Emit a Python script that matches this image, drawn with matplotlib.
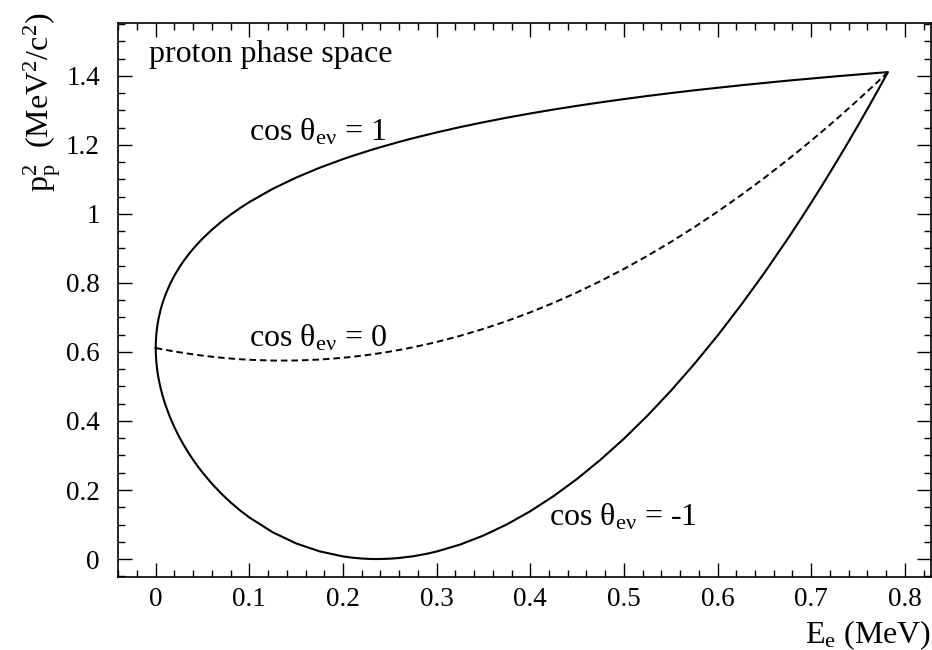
import matplotlib
matplotlib.use("Agg")
import matplotlib.pyplot as plt
from matplotlib.ticker import MultipleLocator, FixedLocator

plt.rcParams['font.family'] = ['Liberation Serif', 'DejaVu Serif']
plt.rcParams['mathtext.fontset'] = 'custom'
plt.rcParams['mathtext.rm'] = 'Liberation Serif'
plt.rcParams['mathtext.it'] = 'Liberation Serif:italic'


##########################  DATA   ##########################

# electron kinetic energy (MeV)
e_kin = [0.0, 0.0001, 0.0005, 0.001, 0.002, 0.003, 0.005, 0.007,
         0.01, 0.015, 0.02, 0.025, 0.03, 0.035, 0.04, 0.045,
         0.05, 0.06, 0.07, 0.08, 0.09, 0.1, 0.125, 0.15,
         0.175, 0.2, 0.21, 0.22, 0.225, 0.23, 0.236, 0.24,
         0.25, 0.26, 0.275, 0.29, 0.3, 0.325, 0.35, 0.375,
         0.4, 0.425, 0.45, 0.475, 0.5, 0.525, 0.55, 0.575,
         0.6, 0.625, 0.65, 0.675, 0.69, 0.7, 0.71, 0.72,
         0.73, 0.74, 0.75, 0.76, 0.77, 0.775, 0.779, 0.782]

# p_p^2 for cos(theta_e nu) = 1
pp2_up = [0.6115, 0.6273, 0.6466, 0.6609, 0.6810, 0.6963, 0.7202, 0.7394,
          0.7632, 0.7952, 0.8215, 0.8442, 0.8643, 0.8824, 0.8989, 0.9142,
          0.9284, 0.9541, 0.9771, 0.9978, 1.0168, 1.0342, 1.0726, 1.1052,
          1.1336, 1.1586, 1.1678, 1.1766, 1.1809, 1.1851, 1.1900, 1.1932,
          1.2010, 1.2086, 1.2193, 1.2295, 1.2360, 1.2514, 1.2655, 1.2787,
          1.2909, 1.3024, 1.3130, 1.3231, 1.3325, 1.3415, 1.3499, 1.3579,
          1.3654, 1.3726, 1.3794, 1.3860, 1.3897, 1.3922, 1.3946, 1.3970,
          1.3993, 1.4016, 1.4038, 1.4060, 1.4082, 1.4092, 1.4101, 1.4107]

# p_p^2 for cos(theta_e nu) = 0
pp2_mid = [0.6115, 0.6115, 0.6113, 0.6110, 0.6104, 0.6099, 0.6089, 0.6078,
           0.6063, 0.6038, 0.6015, 0.5992, 0.5971, 0.5950, 0.5930, 0.5912,
           0.5894, 0.5862, 0.5834, 0.5810, 0.5789, 0.5773, 0.5750, 0.5752,
           0.5779, 0.5831, 0.5859, 0.5891, 0.5908, 0.5927, 0.5950, 0.5966,
           0.6010, 0.6058, 0.6137, 0.6225, 0.6289, 0.6466, 0.6668, 0.6895,
           0.7147, 0.7424, 0.7726, 0.8053, 0.8405, 0.8782, 0.9184, 0.9611,
           1.0063, 1.0540, 1.1042, 1.1569, 1.1897, 1.2121, 1.2349, 1.2581,
           1.2817, 1.3056, 1.3300, 1.3548, 1.3800, 1.3927, 1.4030, 1.4107]

# p_p^2 for cos(theta_e nu) = -1
pp2_low = [0.6115, 0.5957, 0.5759, 0.5610, 0.5399, 0.5235, 0.4975, 0.4763,
           0.4495, 0.4125, 0.3815, 0.3543, 0.3299, 0.3077, 0.2872, 0.2682,
           0.2505, 0.2183, 0.1897, 0.1641, 0.1411, 0.1204, 0.0775, 0.0452,
           0.0223, 0.0077, 0.0040, 0.0015, 0.0007, 0.0002, 0.0000, 0.0001,
           0.0010, 0.0031, 0.0081, 0.0156, 0.0218, 0.0419, 0.0681, 0.1004,
           0.1385, 0.1825, 0.2322, 0.2876, 0.3485, 0.4150, 0.4870, 0.5644,
           0.6472, 0.7355, 0.8290, 0.9279, 0.9898, 1.0321, 1.0752, 1.1192,
           1.1641, 1.2097, 1.2562, 1.3036, 1.3518, 1.3762, 1.3959, 1.4107]

x_ticks = [0, 0.1, 0.2, 0.3, 0.4, 0.5, 0.6, 0.7, 0.8]
x_tick_labels = ['0', '0.1', '0.2', '0.3', '0.4', '0.5', '0.6', '0.7', '0.8']
y_ticks = [0, 0.2, 0.4, 0.6, 0.8, 1.0, 1.2, 1.4]
y_tick_labels = ['0', '0.2', '0.4', '0.6', '0.8', '1', '1.2', '1.4']


#################################  PLOTTING   #################################

fig = plt.figure(figsize=(9.32, 6.5), dpi=100)
ax = fig.add_axes([118/932, 1 - 577/650, 813/932, 554/650])

# closed contour: upper branch out, lower branch back
x_closed = e_kin + e_kin[::-1]
y_closed = pp2_up + pp2_low[::-1]
ax.plot(x_closed, y_closed, color='black', lw=1.5, solid_joinstyle='round')
ax.plot(e_kin, pp2_mid, color='black', lw=1.4, linestyle=(0, (3.4, 2.0)))

ax.set_xlim(-0.0403, 0.828)
ax.set_ylim(-0.052, 1.553)

ax.xaxis.set_major_locator(FixedLocator(x_ticks))
ax.set_xticklabels(x_tick_labels)
ax.yaxis.set_major_locator(FixedLocator(y_ticks))
ax.set_yticklabels(y_tick_labels)
ax.xaxis.set_minor_locator(MultipleLocator(0.02))
ax.yaxis.set_minor_locator(MultipleLocator(0.05))

ax.tick_params(which='both', direction='in', top=True, right=True,
               width=1.0, labelsize=19.5)
ax.tick_params(which='major', length=10)
ax.tick_params(which='minor', length=5)
ax.tick_params(axis='x', which='major', pad=7)
ax.tick_params(axis='y', which='major', pad=13)
for sp in ax.spines.values():
    sp.set_linewidth(1.2)

sub = r'$_{\mathregular{eν}}$'
ax.text(-0.007, 1.439, 'proton phase space', fontsize=23)
ax.text(0.0994, 1.213, 'cos θ' + sub + ' = 1', fontsize=23)
ax.text(0.0997, 0.6165, 'cos θ' + sub + ' = 0', fontsize=23)
ax.text(0.420, 0.098, 'cos θ' + sub + ' = -1', fontsize=23)

fig.text(42/932, 1 - 13/650,
         r'p$_{\mathregular{p}}^{\mathregular{2}}$  '
         r'(MeV$^{\mathregular{2}}$/c$^{\mathregular{2}}$)',
         rotation=90, ha='center', va='top', fontsize=23)
fig.text(931/932, 1 - 643/650, r'E$_{\mathregular{e}}$ (MeV)',
         ha='right', va='baseline', fontsize=23)

fig.savefig('out.png', dpi=100)
